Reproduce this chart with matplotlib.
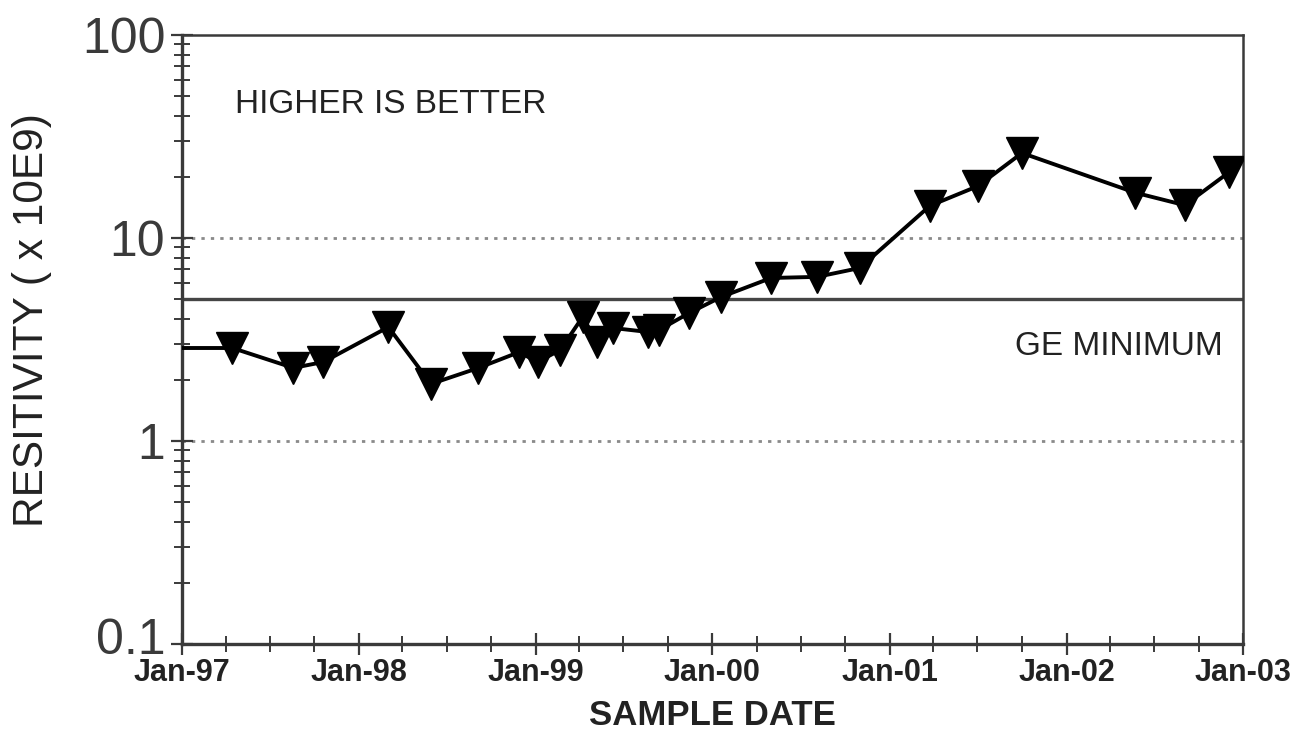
import numpy as np
import pandas as pd
import matplotlib
matplotlib.use("Agg")
import matplotlib.pyplot as plt
import matplotlib.dates as mdates
import matplotlib.transforms as mtransforms
from matplotlib.ticker import LogLocator, FuncFormatter, NullFormatter

plt.rcParams['font.family'] = ['Liberation Sans', 'DejaVu Sans']

# sample dates and resistivity values (x 10E9)
sample_dates = ['1996-11-15', '1997-04-15', '1997-08-19', '1997-10-20', '1998-03-03',
                '1998-05-30', '1998-09-05', '1998-11-28', '1999-01-05', '1999-02-21',
                '1999-04-08', '1999-05-08', '1999-06-10', '1999-08-22', '1999-09-13',
                '1999-11-14', '2000-01-19', '2000-05-01', '2000-08-04', '2000-10-31',
                '2001-03-25', '2001-07-02', '2001-10-01', '2002-05-23', '2002-09-02',
                '2002-12-03']
resistivity = [2.87, 2.87, 2.29, 2.45, 3.64,
               1.91, 2.29, 2.74, 2.45, 2.81,
               4.08, 3.07, 3.60, 3.44, 3.52,
               4.27, 5.12, 6.35, 6.43, 7.11,
               14.4, 18.0, 26.2, 16.7, 14.5,
               21.1]
ge_minimum = 5
ref_levels = [1, 10]
y_ticks = [0.1, 1, 10, 100]

dates = pd.to_datetime(sample_dates)

fig = plt.figure(figsize=(13.03, 7.52), dpi=100)
ax = fig.add_axes([0.1397, 0.1436, 0.8145, 0.81])

dark = '#3a3a3a'

# reference levels
for lv in ref_levels:
    ax.axhline(lv, color='#8a8a8a', lw=2.0, ls=(0, (1.2, 2.2)), zorder=1)
ax.axhline(ge_minimum, color='#454545', lw=2.4, zorder=2)

# data (first point lies before the axis start, only its line shows)
ax.plot(dates, resistivity, color='black', lw=2.8, marker='v', ms=23,
        markevery=list(range(1, len(dates))), zorder=3, clip_on=True)

ax.set_yscale('log')
ax.set_ylim(0.1, 100)
ax.set_xlim(pd.Timestamp('1997-01-01'), pd.Timestamp('2003-01-01'))

ax.set_yticks(y_ticks)
ax.yaxis.set_major_formatter(FuncFormatter(lambda v, p: '%g' % v))
ax.yaxis.set_minor_locator(LogLocator(base=10, subs=np.arange(2, 10)))
ax.yaxis.set_minor_formatter(NullFormatter())

ax.xaxis.set_major_locator(mdates.YearLocator())
ax.xaxis.set_major_formatter(mdates.DateFormatter('%b-%y'))
ax.xaxis.set_minor_locator(mdates.MonthLocator(bymonth=[4, 7, 10]))

ax.tick_params(axis='y', which='major', direction='inout', length=16, width=1.6,
               labelsize=36, colors=dark, pad=4)
ax.tick_params(axis='y', which='minor', direction='inout', length=11, width=1.4, colors=dark)
ax.tick_params(axis='x', which='major', direction='inout', length=16, width=1.6,
               labelsize=22, colors=dark, pad=2)
ax.tick_params(axis='x', which='minor', direction='inout', length=11, width=1.4, colors=dark)
for lab in ax.get_xticklabels():
    lab.set_fontweight('bold')
    lab.set_color('#222222')

# nudge the bottom y label up so it clears Jan-97
ylabs = ax.get_yticklabels()
ylabs[0].set_transform(ylabs[0].get_transform() +
                       mtransforms.ScaledTranslation(0, 6 / 72, fig.dpi_scale_trans))

for side in ['left', 'bottom']:
    ax.spines[side].set_linewidth(2.4)
    ax.spines[side].set_color(dark)
for side in ['top', 'right']:
    ax.spines[side].set_linewidth(1.8)
    ax.spines[side].set_color(dark)

ax.set_xlabel('SAMPLE DATE', fontsize=25, fontweight='bold', color='#222222', labelpad=8)
ax.set_ylabel('RESITIVITY ( x 10E9)', fontsize=30.5, color='#222222')
ax.yaxis.set_label_coords(-0.1225, 0.532)

ax.text(0.05, 0.885, 'HIGHER IS BETTER', transform=ax.transAxes, fontsize=24,
        color='#222222', va='center', ha='left')
ax.text(0.785, 0.488, 'GE MINIMUM', transform=ax.transAxes, fontsize=24,
        color='#222222', va='center', ha='left')

fig.savefig('out.png', dpi=100, facecolor='white')
